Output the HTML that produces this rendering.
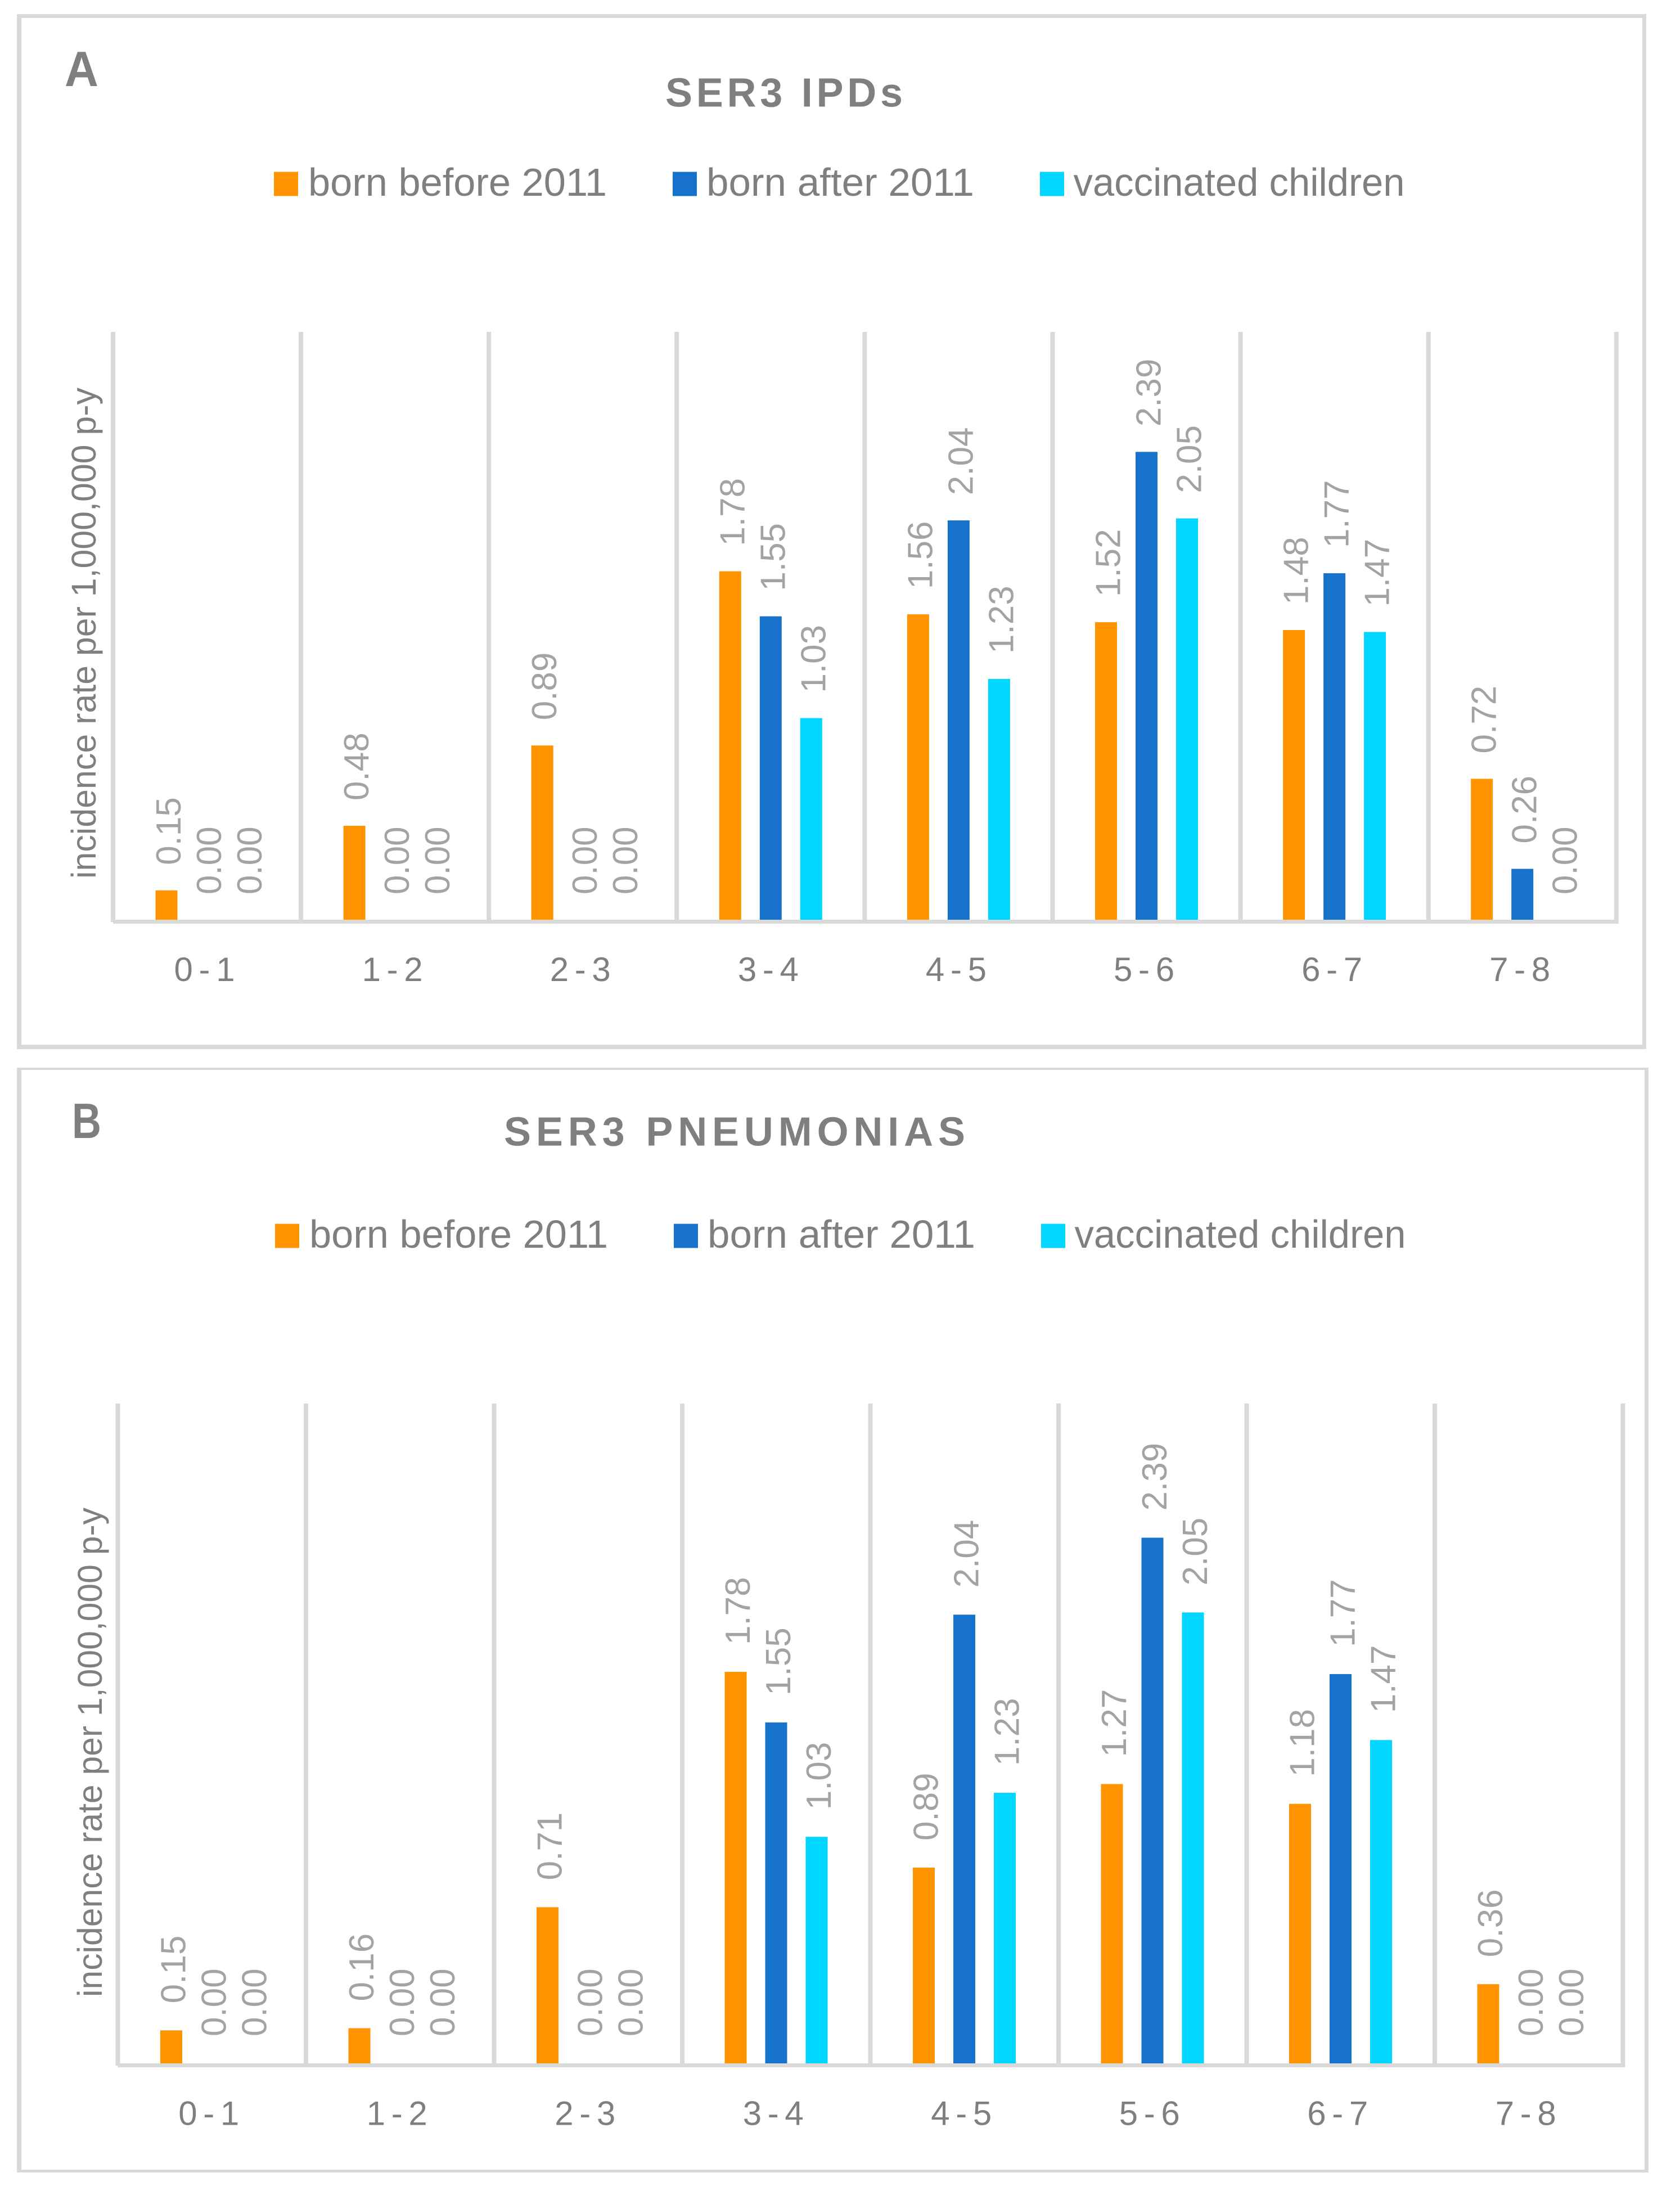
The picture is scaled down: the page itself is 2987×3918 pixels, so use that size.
<!DOCTYPE html>
<html lang="en">
<head>
<meta charset="utf-8">
<title>SER3 incidence rates</title>
<style>
html,body{margin:0;padding:0;background:#fff;}
svg{display:block;}
text{font-family:"Liberation Sans",sans-serif;}
</style>
</head>
<body>
<svg id="chart" xmlns="http://www.w3.org/2000/svg" width="2987" height="3918" viewBox="0 0 2987 3918">
  <rect x="0" y="0" width="2987" height="3918" fill="#ffffff"/>
</svg>
<script>
// ---- chart data ----
const categories = ['0 - 1','1 - 2','2 - 3','3 - 4','4 - 5','5 - 6','6 - 7','7 - 8'];
const seriesNames = ['born before 2011','born after 2011','vaccinated children'];
const seriesColors = ['#ff9300','#1772cb','#00d6ff'];
const yAxisTitle = 'incidence rate per 1,000,000 p-y';

const ipdBornBefore = [0.15,0.48,0.89,1.78,1.56,1.52,1.48,0.72];
const ipdBornAfter  = [0.00,0.00,0.00,1.55,2.04,2.39,1.77,0.26];
const ipdVaccinated = [0.00,0.00,0.00,1.03,1.23,2.05,1.47,0.00];

const pneuBornBefore = [0.15,0.16,0.71,1.78,0.89,1.27,1.18,0.36];
const pneuBornAfter  = [0.00,0.00,0.00,1.55,2.04,2.39,1.77,0.00];
const pneuVaccinated = [0.00,0.00,0.00,1.03,1.23,2.05,1.47,0.00];

// ---- layout ----
const NS = 'http://www.w3.org/2000/svg';
const svg = document.getElementById('chart');

const layoutA = {
  key:'a', letter:'A', title:'SER3 IPDs',
  outer:[30,25,2897,1840], inner:[38,32,2882,1825],
  letterX:115, letterY:153, letterW:60,
  titleX:1183, titleY:189.5, titleW:422,
  legendY:305.5, legendDX:0,
  gridLeft:201, gridStep:334.1, gridTop:590, base:1635, unit:348,
  labelGap:45, catY:1744, catDX:-4.5,
  axisTitleX:170, axisTitleY:1562, axisTitleW:873,
  series:[ipdBornBefore,ipdBornAfter,ipdVaccinated]
};
const layoutB = {
  key:'b', letter:'B', title:'SER3 PNEUMONIAS',
  outer:[30,1898,2901,1964], inner:[38,1902,2886,1955],
  letterX:128, letterY:2023, letterW:52,
  titleX:896, titleY:2036.5, titleW:820,
  legendY:2175.5, legendDX:2,
  gridLeft:209.5, gridStep:334.5, gridTop:2495, base:3668, unit:391,
  labelGap:48, catY:3777.5, catDX:-5.5,
  axisTitleX:181, axisTitleY:3550, axisTitleW:870,
  series:[pneuBornBefore,pneuBornAfter,pneuVaccinated]
};

const legendSwatchX = [487,1196,1849];
const legendTextX = [548,1256,1908.5];
const legendTextW = [531,476,589];
const barOffsets = [75.5,147.5,219.5];
const barWidth = 39;

function make(parent, tag, attrs, text){
  const el = document.createElementNS(NS, tag);
  for (const k in attrs) el.setAttribute(k, attrs[k]);
  if (text !== undefined) el.textContent = text;
  parent.appendChild(el);
  return el;
}

function drawPanel(p){
  const xGrid = i => p.gridLeft + i * p.gridStep;
  const xBar = (g, s) => xGrid(g) + barOffsets[s];
  const yVal = v => p.base - v * p.unit;

  const g = make(svg, 'g', {});
  
  

  const outer = make(g, 'rect', {x:p.outer[0], y:p.outer[1], width:p.outer[2], height:p.outer[3], fill:'#d9d9d9'});
  
  
  const inner = make(g, 'rect', {x:p.inner[0], y:p.inner[1], width:p.inner[2], height:p.inner[3], fill:'#ffffff'});
  
  

  const letter = make(g, 'text', {x:p.letterX, y:p.letterY, 'font-size':88, 'font-weight':'bold', fill:'#7f7f7f', textLength:p.letterW, lengthAdjust:'spacingAndGlyphs'}, p.letter);
  
  

  const title = make(g, 'text', {x:p.titleX, y:p.titleY, 'font-size':72, 'font-weight':'bold', fill:'#7f7f7f', textLength:p.titleW, lengthAdjust:'spacing'}, p.title);
  
  

  seriesNames.forEach((name, s) => {
    const entry = make(g, 'g', {});
    
    
    const sw = make(entry, 'rect', {x:legendSwatchX[s] + p.legendDX, y:p.legendY, width:43, height:43, fill:seriesColors[s]});
    
    
    const tx = make(entry, 'text', {x:legendTextX[s] + p.legendDX, y:p.legendY + 42.5, 'font-size':70, fill:'#7f7f7f', textLength:legendTextW[s], lengthAdjust:'spacingAndGlyphs'}, name);
    
    
  });

  for (let i = 0; i <= categories.length; i++){
    const gl = make(g, 'rect', {x:xGrid(i) - 4, y:p.gridTop, width:8, height:p.base + 4 - p.gridTop, fill:'#d9d9d9'});
    
    
  }
  const axis = make(g, 'rect', {x:xGrid(0), y:p.base, width:xGrid(categories.length) - xGrid(0) + 4, height:7, fill:'#d9d9d9'});
  
  

  p.series.forEach((vals, s) => {
    vals.forEach((v, i) => {
      const x = xBar(i, s);
      if (v > 0){
        const bar = make(g, 'rect', {x:x, y:yVal(v), width:barWidth, height:p.base - yVal(v), fill:seriesColors[s]});
        
        
      }
      const lx = x + barWidth / 2 + 25;
      const ly = yVal(v) - p.labelGap;
      const lab = make(g, 'text', {x:lx, y:ly, 'font-size':62, fill:'#a3a3a3', transform:'rotate(-90 ' + lx + ' ' + ly + ')'}, v.toFixed(2));
      
      
    });
  });

  categories.forEach((c, i) => {
    const cx = (xGrid(i) + xGrid(i + 1)) / 2 + p.catDX;
    const t = make(g, 'text', {x:cx, y:p.catY, 'font-size':60, fill:'#7f7f7f', 'text-anchor':'middle', 'word-spacing':'-6px'}, c);
    
    
  });

  const yt = make(g, 'text', {x:p.axisTitleX, y:p.axisTitleY, 'font-size':61, fill:'#7f7f7f', textLength:p.axisTitleW, lengthAdjust:'spacingAndGlyphs', transform:'rotate(-90 ' + p.axisTitleX + ' ' + p.axisTitleY + ')'}, yAxisTitle);
  
  
}

drawPanel(layoutA);
drawPanel(layoutB);
</script>
</body>
</html>
